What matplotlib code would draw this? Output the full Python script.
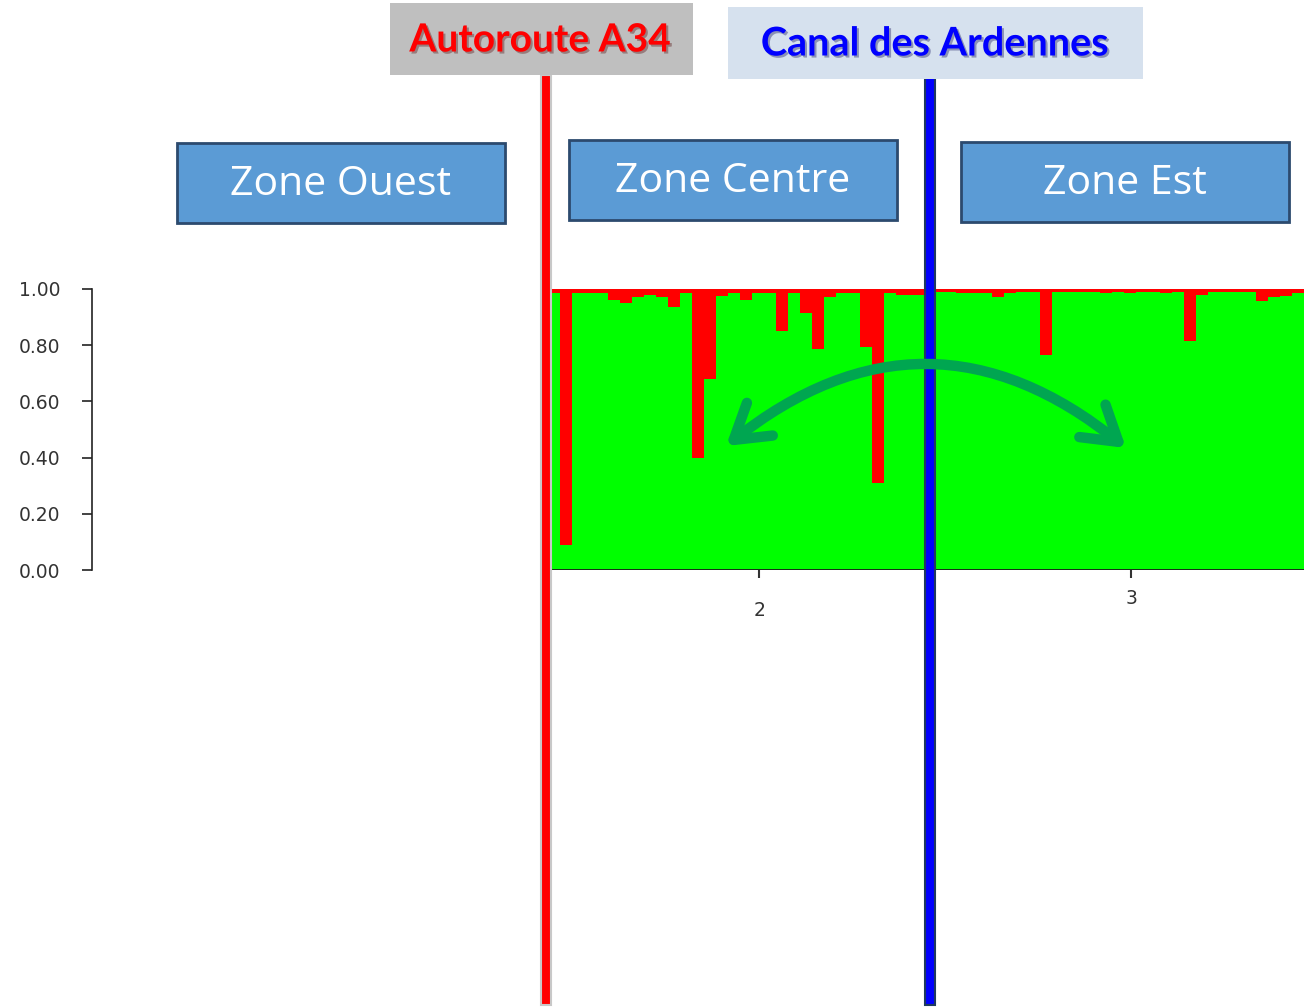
import numpy as np
import matplotlib.pyplot as plt
from matplotlib.patches import Rectangle, FancyArrowPatch
import matplotlib.patheffects as pe

# membership of each individual in the green cluster (rest is the red cluster)
green_q = [0.985, 0.09, 0.985, 0.985, 0.985, 0.96, 0.95, 0.97, 0.98, 0.97,
           0.937, 0.985, 0.40, 0.68, 0.976, 0.985, 0.96, 0.985, 0.985, 0.85,
           0.985, 0.915, 0.787, 0.97, 0.985, 0.985, 0.793, 0.31, 0.985, 0.978,
           0.978, 0.978, 0.99, 0.99, 0.985, 0.985, 0.985, 0.973, 0.985, 0.99,
           0.99, 0.765, 0.99, 0.99, 0.99, 0.99, 0.985, 0.99, 0.985, 0.99,
           0.99, 0.985, 0.99, 0.815, 0.978, 0.99, 0.99, 0.99, 0.99, 0.958,
           0.97, 0.976, 0.985]
pop_ticks = [17.6, 48.6]
pop_labels = ['2', '3']
y_ticks = [0.0, 0.2, 0.4, 0.6, 0.8, 1.0]

zones = ['Zone Ouest', 'Zone Centre', 'Zone Est']
barriers = ['Autoroute A34', 'Canal des Ardennes']

W, H = 1304, 1008
fig = plt.figure(figsize=(W / 100, H / 100), dpi=100)

# structure barplot
ax = fig.add_axes([92 / W, (H - 570) / H, (W - 92) / W, 281 / H])
idx = np.arange(len(green_q))
green = np.array(green_q)
ax.bar(idx, green, width=1.0, align='edge', color='#00ff00', linewidth=0)
ax.bar(idx, 1 - green, bottom=green, width=1.0, align='edge', color='#ff0000', linewidth=0)
ax.hlines(0, 0, len(green_q), color='#1a1a1a', lw=2, zorder=3)
ax.set_xlim(-38, len(green_q))
ax.set_ylim(0, 1)
for s in ['top', 'right', 'bottom']:
    ax.spines[s].set_visible(False)
ax.spines['left'].set_color('#222222')
ax.spines['left'].set_linewidth(1.2)
ax.set_yticks(y_ticks, ['%.2f' % v for v in y_ticks])
ax.tick_params(axis='y', length=7, width=1.2, color='#222222', pad=16,
               labelsize=13.5, labelcolor='#333333')
ax.set_xticks(pop_ticks, ['', ''])
ax.tick_params(axis='x', length=6, width=1.5, color='#333333', direction='out')
ax.set_facecolor('none')
# staggered population labels
for x, lab, dy in zip(pop_ticks, pop_labels, [-0.145, -0.1]):
    ax.text(x, dy, lab, transform=ax.get_xaxis_transform(), ha='center', va='center',
            fontsize=13.5, color='#333333')

# overlay in pixel coordinates for the annotations
ov = fig.add_axes([0, 0, 1, 1], zorder=5)
ov.set_xlim(0, W)
ov.set_ylim(H, 0)
ov.axis('off')

# barrier lines
ov.add_patch(Rectangle((541, 75), 10, 930, facecolor='#ff0000', edgecolor='#c8c8c8', lw=1.5))
ov.add_patch(Rectangle((925, 73), 10, 932, facecolor='#0000ff', edgecolor='#1f3a60', lw=1.5))

# barrier labels
shadow = [pe.withSimplePatchShadow(offset=(1.5, -1.5), alpha=0.35)]
ov.add_patch(Rectangle((390, 3), 303, 72, facecolor='#bfbfbf', edgecolor='none'))
ov.text(540, 40, barriers[0], ha='center', va='center', fontsize=28, fontweight='bold',
        color='#ff0000', family='Lato', path_effects=shadow)
ov.add_patch(Rectangle((728, 7), 415, 72, facecolor='#d6e1ee', edgecolor='none'))
ov.text(935, 44, barriers[1], ha='center', va='center', fontsize=28.5, fontweight='bold',
        color='#0000ff', family='Lato', path_effects=shadow)

# zone boxes
zone_boxes = [(177, 143), (569, 140), (961, 142)]
for name, (x0, y0) in zip(zones, zone_boxes):
    ov.add_patch(Rectangle((x0, y0), 328, 80, facecolor='#5b9bd5', edgecolor='#2c4a6e', lw=2))
    ov.text(x0 + 164, y0 + 42, name, ha='center', va='center', fontsize=29.5,
            color='white', family='Open Sans')

# gene flow across the canal
arr = FancyArrowPatch((726, 446), (1126, 448), connectionstyle='arc3,rad=-0.40',
                      arrowstyle='<->,head_length=24,head_width=15',
                      color='#00a651', lw=7.5, capstyle='round', joinstyle='round',
                      mutation_scale=1, shrinkA=0, shrinkB=0)
ov.add_patch(arr)

fig.savefig('out.png', dpi=100)
